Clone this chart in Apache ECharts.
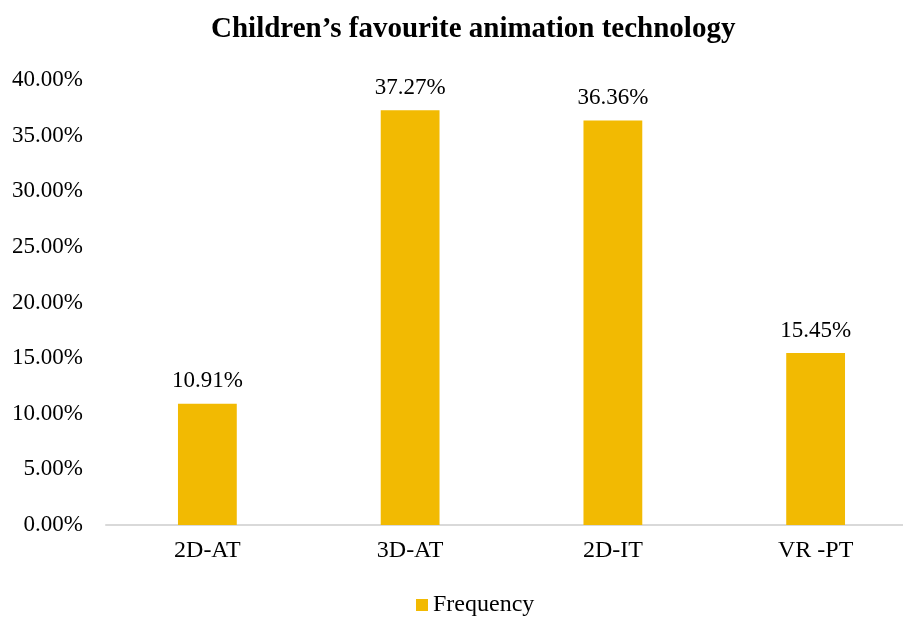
<!DOCTYPE html>
<html>
<head>
<meta charset="utf-8">
<script src="https://cdn.jsdelivr.net/npm/echarts@6/dist/echarts.min.js"></script>
<style>
  html, body { margin: 0; padding: 0; background: #fff; }
  #chart { width: 903px; height: 617px; }
</style>
</head>
<body>
<div id="chart"></div>
<script>
const categories = ['2D-AT', '3D-AT', '2D-IT', 'VR -PT']
const frequency = [10.91, 37.27, 36.36, 15.45]
const yTicks = { min: 0, max: 40, interval: 5 }

const font = 'Liberation Serif, Times New Roman, serif'
const gold = '#F2BA02'

const chart = echarts.init(document.getElementById('chart'))
chart.setOption({
    animation: false,
    title: {
        text: 'Children\u2019s favourite animation technology',
        left: 211,
        top: 15,
        padding: 0,
        textStyle: { fontFamily: font, fontSize: 29, fontWeight: 'bold', color: '#000' }
    },
    legend: {
        top: 593,
        left: 416,
        padding: 0,
        itemWidth: 12,
        itemHeight: 12,
        icon: 'rect',
        textStyle: { fontFamily: font, fontSize: 24, color: '#000', padding: [0, 0, 0, 0] },
        data: ['Frequency']
    },
    // the original plot runs past the right edge of the picture
    grid: { left: 106, width: 811, top: 80, bottom: 92, outerBoundsMode: 'none' },
    xAxis: {
        type: 'category',
        data: categories,
        axisLine: { lineStyle: { color: '#d9d9d9', width: 2 } },
        axisTick: { show: false },
        axisLabel: { fontFamily: font, fontSize: 24, color: '#000', margin: 14 }
    },
    yAxis: {
        type: 'value',
        min: yTicks.min,
        max: yTicks.max,
        interval: yTicks.interval,
        axisLine: { show: false },
        axisTick: { show: false },
        splitLine: { show: false },
        axisLabel: {
            fontFamily: font, fontSize: 23, color: '#000', margin: 23,
            formatter: v => v.toFixed(2) + '%'
        }
    },
    series: [
        {
            name: 'Frequency',
            type: 'bar',
            barWidth: '29%',
            itemStyle: { color: gold },
            label: {
                show: true,
                position: 'top',
                distance: 11,
                fontFamily: font,
                fontSize: 23,
                color: '#000',
                formatter: p => p.value.toFixed(2) + '%'
            },
            data: frequency
        }
    ]
})
</script>
</body>
</html>
